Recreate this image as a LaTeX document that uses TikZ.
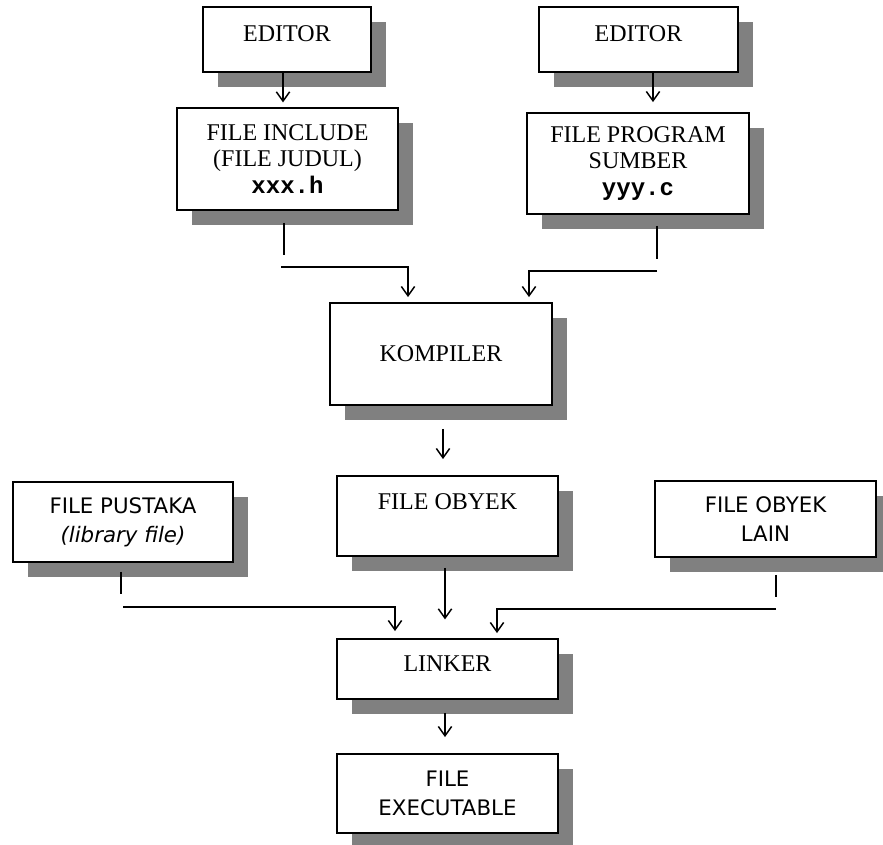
\documentclass[tikz,border=0pt]{standalone}
\usepackage{fontspec}
\setmainfont{Liberation Serif}
\newfontfamily\tahomafont{DejaVu Sans}
\newfontfamily\courfont{Liberation Mono}
\usetikzlibrary{shadows,arrows.meta,calc}
\definecolor{shgray}{HTML}{808080}
\begin{document}
\begin{tikzpicture}[x=0.75pt,y=-0.75pt,
  box/.style={draw=black, line width=1.4pt, fill=white, align=center, inner sep=0pt,
    drop shadow={shadow xshift=11.25pt, shadow yshift=-11.25pt, fill=shgray, opacity=1}},
  sz/.style 2 args={minimum width=#1*0.75pt, minimum height=#2*0.75pt},
  tm/.style={font=\fontsize{18}{20}\selectfont},
  ts/.style={font=\tahomafont\fontsize{16}{22}\selectfont},
  ln/.style={line width=1.1pt},
  arr/.style={ln, -{Straight Barb[length=7pt,width=10pt]}},
]
\useasboundingbox (0,0) rectangle (883,845);

% boxes
\node[box, sz={168}{65}, label={[tm,yshift=4.5pt]center:EDITOR}] (ed1) at (287,39.5) {};
\node[box, sz={199}{65}, label={[tm,yshift=4.5pt]center:EDITOR}] (ed2) at (638.5,39.5) {};
\node[box, tm, sz={221}{102}] (inc) at (287.5,159) {FILE INCLUDE\\(FILE JUDUL)\\{\courfont\bfseries xxx.h}};
\node[box, tm, sz={222}{101}] (prg) at (638,163.5) {FILE PROGRAM\\SUMBER\\{\courfont\bfseries yyy.c}};
\node[box, tm, sz={222}{102}] (kom) at (441,354) {KOMPILER};
\node[box, sz={221}{80}, label={[tm,yshift=10.5pt]center:FILE OBYEK}] (oby) at (447.5,516) {};
\node[box, ts, sz={220}{80}] (pus) at (123,522) {FILE PUSTAKA\\{\itshape (library file)}};
\node[box, ts, sz={221}{76}] (lain) at (765.5,519) {FILE OBYEK\\LAIN};
\node[box, sz={221}{60}, label={[tm,yshift=3.75pt]center:LINKER}] (lnk) at (447.5,669) {};
\node[box, ts, sz={221}{79}] (exe) at (447.5,793.5) {FILE\\EXECUTABLE};

% connectors
\draw[arr, shorten >=3.5pt] ($(ed1.south)+(-4,0)$) -- ($(inc.north)+(-4.5,0)$);
\draw[arr, shorten >=7.5pt] ($(ed2.south)+(14.5,0)$) -- ($(prg.north)+(15,0)$);

\draw[ln] ($(inc.south)+(-3.5,12)$) -- ++(0,32);
\draw[arr, shorten >=3.75pt] ($(inc.south)+(-6.5,56)$) -| ($(kom.north)+(-33,0)$);

\draw[ln] ($(prg.south)+(19,11)$) -- ++(0,33);
\draw[arr, shorten >=3.75pt] ($(prg.south)+(19,56)$) -| ($(kom.north)+(88,0)$);

\draw[arr, shorten >=12pt] ($(kom.south)+(2,23)$) -- ($(oby.north)+(-4.5,0)$);
\draw[arr, shorten >=14pt] ($(oby.south)+(-2.5,11)$) -- ($(lnk.north)+(-2.5,0)$);
\draw[arr, shorten >=12pt] ($(lnk.south)+(-2.5,13)$) -- ($(exe.north)+(-2.5,0)$);

\draw[ln] ($(pus.south)+(-2,9)$) -- ++(0,22);
\draw[arr, shorten >=5.25pt] ($(pus.south)+(0,44)$) -| ($(lnk.north)+(-52.5,0)$);

\draw[ln] ($(lain.south)+(10.5,17)$) -- ++(0,22);
\draw[arr, shorten >=3.75pt] ($(lain.south)+(10.5,51)$) -| ($(lnk.north)+(49.5,0)$);
\end{tikzpicture}
\end{document}
